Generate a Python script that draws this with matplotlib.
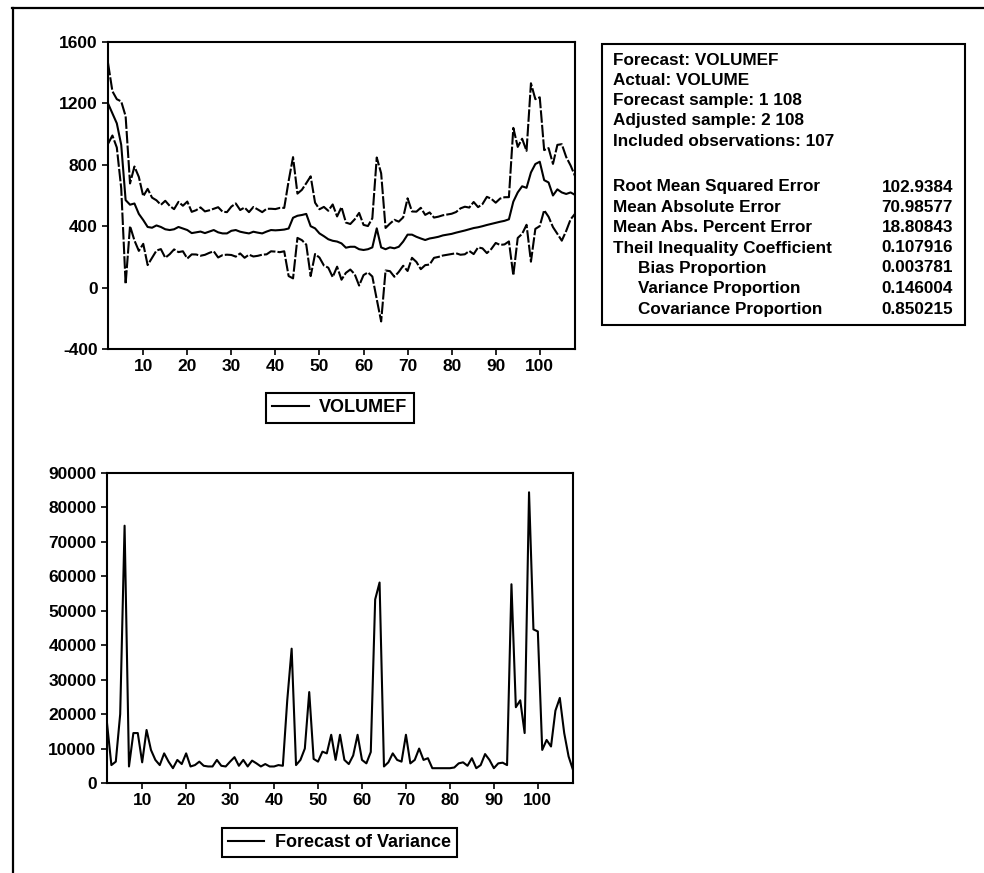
import matplotlib
matplotlib.use("Agg")
import matplotlib.pyplot as plt
import numpy as np
from matplotlib.patches import Rectangle
from matplotlib.lines import Line2D

# ---- data -------------------------------------------------------------
obs = np.arange(2, 109)

volumef = [
    1200, 1135, 1070, 930, 570, 540, 548, 480, 440, 395,
    390, 405, 395, 380, 375, 380, 395, 385, 375, 355,
    360, 365, 355, 365, 375, 360, 353, 353, 370, 375,
    364, 358, 353, 364, 358, 353, 365, 375, 373, 375,
    378, 385, 455, 468, 473, 480, 400, 386, 353, 335,
    315, 305, 300, 288, 260, 266, 266, 250, 245, 250,
    262, 386, 262, 250, 262, 256, 266, 300, 345, 345,
    331, 320, 310, 320, 325, 331, 340, 345, 350, 358,
    365, 372, 380, 388, 393, 400, 408, 415, 422, 429,
    435, 445, 560, 620, 660, 650, 750, 805, 820, 700,
    685, 600, 640, 620, 610, 620, 604,
]

variance_forecast = [
    17400, 5200, 6200, 20000, 74700, 4800, 14500, 14500, 6000, 15400,
    9600, 6700, 5200, 8600, 6200, 4300, 6700, 5500, 8600, 4800,
    5200, 6200, 5000, 4800, 4800, 6700, 5000, 4800, 6200, 7500,
    5000, 6700, 4800, 6500, 5700, 4800, 5500, 4800, 4800, 5200,
    5000, 24000, 39000, 5200, 6700, 10000, 26400, 7000, 6200, 9100,
    8600, 14000, 6700, 14000, 6700, 5500, 8000, 14000, 6700, 5700,
    9000, 53300, 58200, 4800, 6000, 8600, 6700, 6200, 14000, 5700,
    6700, 10000, 6700, 7200, 4300, 4300, 4300, 4300, 4300, 4500,
    5700, 6000, 5000, 7200, 4300, 5200, 8400, 6700, 4300, 5700,
    5900, 5200, 57700, 22000, 24000, 14500, 84400, 44600, 44000, 9600,
    12500, 10600, 21000, 24700, 14500, 7700, 3800,
]

x_ticks = [10, 20, 30, 40, 50, 60, 70, 80, 90, 100]
y_ticks_top = [-400, 0, 400, 800, 1200, 1600]
y_ticks_bottom = [0, 10000, 20000, 30000, 40000, 50000, 60000, 70000, 80000, 90000]

header_lines = [
    "Forecast: VOLUMEF",
    "Actual: VOLUME",
    "Forecast sample: 1 108",
    "Adjusted sample: 2 108",
    "Included observations: 107",
]
stat_names = [
    "Root Mean Squared Error",
    "Mean Absolute Error",
    "Mean Abs. Percent Error",
    "Theil Inequality Coefficient",
    "Bias Proportion",
    "Variance Proportion",
    "Covariance Proportion",
]
stat_values = ["102.9384", "70.98577", "18.80843", "0.107916",
               "0.003781", "0.146004", "0.850215"]
stat_indented = [False, False, False, False, True, True, True]

# forecast +/- 2 standard errors
f = np.array(volumef, dtype=float)
se = np.sqrt(np.array(variance_forecast, dtype=float))
upper = f + 2 * se
lower = f - 2 * se

# ---- style -------------------------------------------------------------
plt.rcParams["font.family"] = ["Liberation Sans", "DejaVu Sans"]
plt.rcParams["font.weight"] = "bold"
plt.rcParams["axes.unicode_minus"] = False

W, H = 984, 873
fig = plt.figure(figsize=(W / 100, H / 100), dpi=100)
fig.patch.set_facecolor("white")


def fx(px):
    return px / W


def fy(py):
    return 1 - py / H


LW = 1.5
TICK_FS = 12.5
LEG_FS = 13
BOX_FS = 12.3


def style_axes(ax):
    for s in ax.spines.values():
        s.set_linewidth(LW)
        s.set_color("black")
    ax.tick_params(axis="both", direction="out", length=4.5, width=1.2,
                   pad=3, labelsize=TICK_FS, top=False, right=False,
                   colors="black")
    for lab in ax.get_xticklabels() + ax.get_yticklabels():
        lab.set_fontweight("bold")


# ---- top panel: forecast with bands ------------------------------------
ax1 = fig.add_axes([fx(108), fy(349), fx(467), 307 / H])
ax1.plot(obs, f, color="black", lw=1.5)
ax1.plot(obs, upper, color="black", lw=1.5, ls=(0, (6, 1)))
ax1.plot(obs, lower, color="black", lw=1.5, ls=(0, (6, 1)))
ax1.set_xlim(2, 108)
ax1.set_ylim(-400, 1600)
ax1.set_xticks(x_ticks)
ax1.set_yticks(y_ticks_top)
style_axes(ax1)

leg1 = fig.legend(handles=[Line2D([], [], color="black", lw=1.5)],
                  labels=["VOLUMEF"], loc="center",
                  bbox_to_anchor=(fx(340), fy(408)), frameon=True,
                  fancybox=False, edgecolor="black", framealpha=1,
                  handlelength=2.0, handletextpad=0.6, borderpad=0.35,
                  prop={"size": LEG_FS, "weight": "bold"})
leg1.get_frame().set_linewidth(LW)

# ---- bottom panel: variance forecast -----------------------------------
ax2 = fig.add_axes([fx(107), fy(783), fx(466), 310 / H])
ax2.plot(obs, variance_forecast, color="black", lw=1.5)
ax2.set_xlim(2, 108)
ax2.set_ylim(0, 90000)
ax2.set_xticks(x_ticks)
ax2.set_yticks(y_ticks_bottom)
style_axes(ax2)

leg2 = fig.legend(handles=[Line2D([], [], color="black", lw=1.5)],
                  labels=["Forecast of Variance"], loc="center",
                  bbox_to_anchor=(fx(339.5), fy(842.5)), frameon=True,
                  fancybox=False, edgecolor="black", framealpha=1,
                  handlelength=2.0, handletextpad=0.6, borderpad=0.35,
                  prop={"size": LEG_FS, "weight": "bold"})
leg2.get_frame().set_linewidth(LW)

# ---- forecast evaluation box -------------------------------------------
fig.add_artist(Rectangle((fx(602), fy(325)), fx(965 - 602), (325 - 44) / H,
                         transform=fig.transFigure, fill=False,
                         edgecolor="black", lw=LW))
header_y = [60.5, 80.5, 100.5, 120.5, 141]
for txt, py in zip(header_lines, header_y):
    fig.text(fx(613), fy(py), txt, fontsize=BOX_FS, fontweight="bold",
             ha="left", va="center")
stat_y = [187, 207, 228, 248, 268, 289, 309]
for name, val, ind, py in zip(stat_names, stat_values, stat_indented, stat_y):
    fig.text(fx(638 if ind else 613), fy(py), name, fontsize=BOX_FS,
             fontweight="bold", ha="left", va="center")
    fig.text(fx(953), fy(py), val, fontsize=BOX_FS, fontweight="bold",
             ha="right", va="center")

# ---- page frame ---------------------------------------------------------
fig.add_artist(Line2D([fx(13), fx(13)], [fy(8), 0], transform=fig.transFigure,
                      color="black", lw=1.6))
fig.add_artist(Line2D([fx(12), 1], [fy(8), fy(8)], transform=fig.transFigure,
                      color="black", lw=1.6))

fig.savefig("out.png", dpi=100, facecolor="white")
